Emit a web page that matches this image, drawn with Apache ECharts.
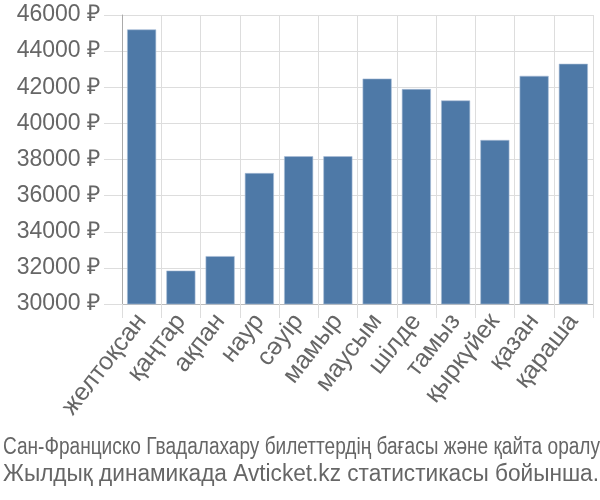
<!DOCTYPE html>
<html><head><meta charset="utf-8">
<script src="https://cdn.jsdelivr.net/npm/echarts@6/dist/echarts.min.js"></script>
<style>html,body{margin:0;padding:0;background:#fff}#c{width:600px;height:500px}</style>
</head><body><div id="c"></div>
<script>
const categories = ['желтоқсан','қаңтар','ақпан','наур','сәуір','мамыр','маусым','шілде','тамыз','қыркүйек','қазан','қараша'];
const prices = [45200, 31850, 32650, 37250, 38180, 38180, 42480, 41900, 41270, 39080, 42630, 43300];
const yMin = 30000, yMax = 46000, yStep = 2000;
const titleLine1 = 'Сан-Франциско Гвадалахару билеттердің бағасы және қайта оралу';
const titleLine2 = 'Жылдық динамикада Avticket.kz статистикасы бойынша.';

const titleFont = '23px "Liberation Sans"';
const cv = document.createElement('canvas').getContext('2d');
cv.font = titleFont;
const w1 = cv.measureText(titleLine1).width;
const sx1 = Math.min(1, 597 / w1);
const w2 = cv.measureText(titleLine2).width;
const sx2 = Math.min(1, 596 / w2);

const chart = echarts.init(document.getElementById('c'));
chart.setOption({
  animation: false,
  grid: {left: 122, right: 7, top: 15, bottom: 196},
  graphic: [
    {type: 'text', x: 3, y: 448, scaleX: sx1, style: {text: titleLine1, font: titleFont, fill: '#666', verticalAlign: 'middle'}},
    {type: 'text', x: 3, y: 475, scaleX: sx2, style: {text: titleLine2, font: titleFont, fill: '#666', verticalAlign: 'middle'}}
  ],
  xAxis: {
    type: 'category', data: categories,
    axisLine: {lineStyle: {color: '#bbb', width: 1}},
    axisTick: {show: true, length: 14, lineStyle: {color: '#ddd'}},
    splitLine: {show: true, lineStyle: {color: '#ddd'}},
    axisLabel: {rotate: 52, fontSize: 25, color: '#666', fontFamily: 'Liberation Sans', margin: 13, interval: 0}
  },
  yAxis: {
    type: 'value', min: yMin, max: yMax, interval: yStep,
    axisLine: {show: true, lineStyle: {color: '#aaa', width: 1}},
    axisTick: {show: true, length: 18, lineStyle: {color: '#ddd'}},
    splitLine: {show: true, lineStyle: {color: '#ddd'}},
    axisLabel: {formatter: v => v + ' ₽', fontSize: 23, color: '#666', fontFamily: 'Liberation Sans', margin: 22}
  },
  series: [{
    type: 'bar', data: prices, barCategoryGap: '26%',
    itemStyle: {color: '#4e79a7', borderColor: '#a9bdd6', borderWidth: 0.6}
  }]
});
</script></body></html>
